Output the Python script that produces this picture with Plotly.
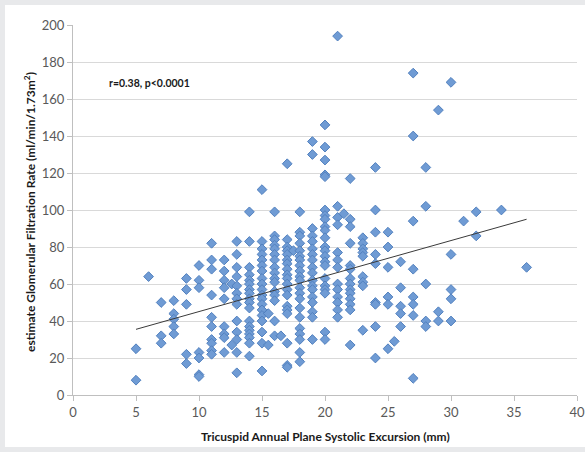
import plotly.graph_objects as go

# TAPSE (mm) columns and the eGFR values read at each
col_x = [5, 6, 7, 8, 9, 10, 11, 12, 12.6, 13, 14, 15, 15.5, 16, 16.5, 17, 17.5, 18, 19, 20,
         21, 21.5, 22, 23, 24, 25, 25.5, 26, 27, 28, 29, 30, 31, 32, 34, 36]
col_y = [
    [25, 8],
    [64],
    [50, 32, 28],
    [51, 44, 41, 37, 33],
    [63, 57, 49, 22, 17],
    [70, 62, 58, 23, 20, 11, 10],
    [82, 73, 68, 54, 42, 37, 30, 28, 24, 22],
    [73, 67, 62, 58, 52, 37, 33, 31, 23],
    [60, 27],
    [83, 76, 69, 64, 59, 55, 52, 49, 40, 34, 30, 23, 12],
    [99, 83, 69, 65, 62, 60, 57, 55, 52, 50, 47, 40, 37, 35, 33, 31, 28, 21],
    [111, 83, 79, 76, 73, 70, 67, 63, 60, 57, 54, 52, 49, 46, 43, 40, 34, 28, 13],
    [44, 27],
    [99, 86, 84, 81, 79, 76, 73, 69, 66, 63, 61, 56, 54, 51, 40, 32],
    [32],
    [125, 84, 80, 78, 76, 73, 71, 68, 65, 63, 60, 57, 54, 48, 46, 44, 28, 16, 15],
    [78],
    [99, 88, 86, 82, 78, 75, 73, 70, 67, 64, 62, 58, 55, 52, 47, 42, 36, 33, 30, 23, 18],
    [137, 130, 90, 86, 83, 79, 76, 73, 69, 66, 62, 59, 57, 53, 50, 45, 42, 30],
    [146, 134, 127, 119, 118, 100, 97, 95, 91, 89, 85, 80, 78, 75, 72, 70, 63, 59, 57, 55, 34, 30],
    [194, 102, 96, 92, 77, 73, 69, 60, 57, 53, 50, 46, 42],
    [98],
    [117, 95, 91, 82, 70, 68, 63, 60, 57, 55, 52, 49, 46, 27],
    [85, 82, 79, 77, 75, 64, 61, 59, 35],
    [123, 100, 88, 76, 71, 50, 49, 37, 20],
    [88, 80, 69, 53, 49, 25],
    [29],
    [72, 58, 48, 44, 37],
    [174, 140, 94, 68, 53, 49, 43, 9],
    [123, 102, 60, 40, 37],
    [154, 45, 40],
    [169, 76, 57, 52, 40],
    [94],
    [99, 86],
    [100],
    [69],
]

tapse = [x for x, ys in zip(col_x, col_y) for _ in ys]
egfr = [y for ys in col_y for y in ys]

# trend line end points
trend_x = [5, 36]
trend_y = [35.5, 95]

x_ticks = [0, 5, 10, 15, 20, 25, 30, 35, 40]
y_ticks = [0, 20, 40, 60, 80, 100, 120, 140, 160, 180, 200]

FONT = "Lato, 'Open Sans', sans-serif"

fig = go.Figure()
fig.add_trace(go.Scatter(
    x=tapse, y=egfr, mode="markers",
    marker=dict(symbol="diamond", size=7.5, color="#6f9bd4",
                line=dict(color="#5281bf", width=1)),
    showlegend=False, hoverinfo="x+y"))
fig.add_trace(go.Scatter(
    x=trend_x, y=trend_y, mode="lines",
    line=dict(color="#3a3a3a", width=1), showlegend=False, hoverinfo="skip"))

L, R, T, B = 73, 8, 25, 57
W, H = 585, 452
pw, ph = W - L - R, H - T - B

fig.update_layout(
    width=W, height=H,
    margin=dict(l=L, r=R, t=T, b=B, autoexpand=False),
    paper_bgcolor="#e8e9eb",
    plot_bgcolor="white",
    font=dict(family=FONT, color="#595959", size=12),
    shapes=[dict(type="rect", xref="paper", yref="paper", layer="below",
                 x0=(5 - L) / pw, x1=(W + 5 - L) / pw,
                 y0=(T + ph - 447) / ph, y1=(T + ph - 5) / ph,
                 fillcolor="white", line=dict(width=0))],
    annotations=[
        dict(x=2.7, y=168.5, xref="x", yref="y", xanchor="left", yanchor="middle",
             text="<b>r=0.38, p<0.0001</b>", showarrow=False,
             font=dict(family=FONT, size=10.5, color="#1a1a1a")),
        dict(x=(325 - L) / pw, y=(T + ph - 436) / ph, xref="paper", yref="paper",
             xanchor="center", yanchor="middle",
             text="<b>Tricuspid Annual Plane Systolic Excursion (mm)</b>", showarrow=False,
             font=dict(family=FONT, size=12, color="#1a1a1a")),
        dict(x=(30 - L) / pw, y=(T + ph - 212) / ph, xref="paper", yref="paper",
             xanchor="center", yanchor="middle", textangle=-90,
             text="<b>estimate Glomerular Filtration Rate (ml/min/1.73m<sup>2</sup>)</b>",
             showarrow=False, font=dict(family=FONT, size=12, color="#1a1a1a")),
    ],
)
fig.update_xaxes(
    range=[0, 40], tickvals=x_ticks, ticktext=[str(v) for v in x_ticks], automargin=False,
    showgrid=False, zeroline=False, showline=True, linecolor="#bfbfbf", linewidth=1,
    ticks="outside", ticklen=5, tickcolor="#bfbfbf", tickfont=dict(size=13, color="#595959"))
fig.update_yaxes(
    range=[0, 200], tickvals=y_ticks, ticktext=[str(v) for v in y_ticks], automargin=False,
    showgrid=True, gridcolor="#d9d9d9", gridwidth=1, zeroline=False,
    showline=True, linecolor="#bfbfbf", linewidth=1,
    ticks="outside", ticklen=5, tickcolor="#bfbfbf", tickfont=dict(size=13, color="#595959"))

fig.write_html(
    "out.html",
    config={"displayModeBar": False},
    post_script="document.body.style.margin='0';document.body.style.overflow='hidden';")
